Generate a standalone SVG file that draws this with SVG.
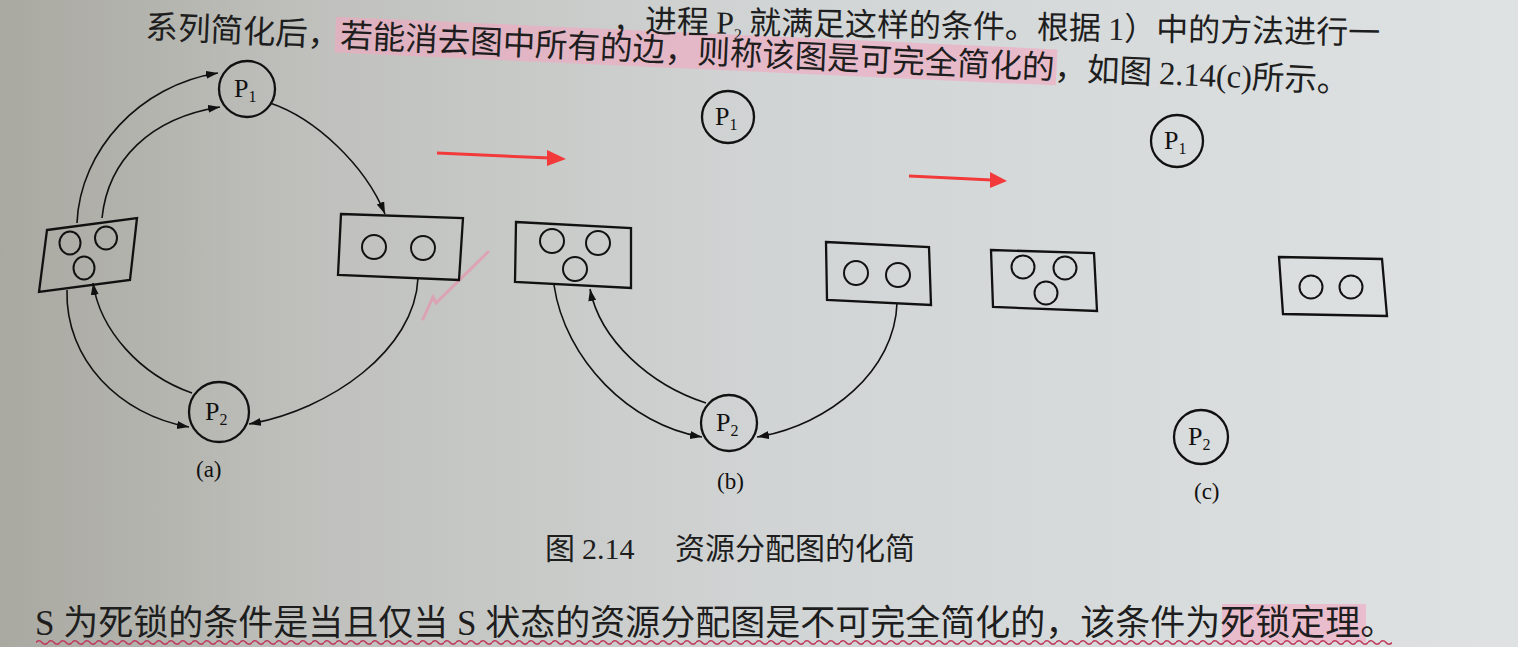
<svg xmlns="http://www.w3.org/2000/svg" width="1518" height="647" viewBox="0 0 1518 647">
<defs>
<linearGradient id="paper" x1="0" y1="0" x2="1" y2="0">
<stop offset="0" stop-color="#a9a8a1"/>
<stop offset="0.2" stop-color="#bfc0bc"/>
<stop offset="0.5" stop-color="#d1d4d4"/>
<stop offset="1" stop-color="#dfe2e3"/>
</linearGradient>
<marker id="ah" markerUnits="userSpaceOnUse" markerWidth="14" markerHeight="10" refX="12" refY="4" orient="auto">
<path d="M0,0 L12,4 L0,8 Z" fill="#111"/>
</marker>
<pattern id="wave" patternUnits="userSpaceOnUse" x="36" y="638" width="12" height="9">
<path d="M0,4.5 Q3,1 6,4.5 T12,4.5" fill="none" stroke="#c03a5c" stroke-width="1.7"/>
</pattern>
<style>
.cjk{font-family:"Noto Sans CJK SC","Liberation Serif",sans-serif;fill:#1e1e1e}
.lat{font-family:"Liberation Serif","Noto Sans CJK SC",serif}
.node{fill:none;stroke:#111;stroke-width:2.3}
.res{fill:none;stroke:#111;stroke-width:2}
.edge{fill:none;stroke:#111;stroke-width:1.6;marker-end:url(#ah)}
.lbl{font-family:"Liberation Serif",serif;font-size:26px;fill:#111}
.sub{font-size:16px}
.cap{font-family:"Liberation Serif",serif;font-size:23px;fill:#111}
.red{fill:#f23a3a}
</style>
</defs>
<rect width="1518" height="647" fill="url(#paper)"/>

<!-- highlights -->
<g id="highlights">
<rect x="335" y="8" width="722" height="36" fill="#f3a6c2" opacity="0.6" transform="rotate(2.6,145,38)"/>
<rect x="1222" y="604" width="144" height="38" fill="#f3a6c2" opacity="0.6"/>
</g>

<!-- text lines -->
<g id="text">
<text class="cjk" font-size="32" x="1380" y="44" text-anchor="end" transform="rotate(0.9,1380,44)">，进程 <tspan class="lat">P<tspan class="sub" dy="6">2</tspan></tspan><tspan dy="-6"> 就满足这样的条件。根据 </tspan><tspan class="lat">1</tspan>）中的方法进行一</text>
<text class="cjk" font-size="32.5" x="145" y="38" transform="rotate(2.6,145,38)">系列简化后，若能消去图中所有的边，则称该图是可完全简化的，如图 <tspan class="lat">2.14(c)</tspan>所示。</text>
<text class="cjk" font-size="30" y="559"><tspan x="545">图</tspan><tspan class="lat" x="582">2.14</tspan><tspan x="675">资源分配图的化简</tspan></text>
<text class="cjk" font-size="35" x="35" y="635"><tspan class="lat">S </tspan>为死锁的条件是当且仅当<tspan class="lat"> S </tspan>状态的资源分配图是不可完全简化的，该条件为死锁定理。</text>
</g>
<rect x="36" y="638" width="1356" height="9" fill="url(#wave)"/>

<!-- red annotations -->
<g id="annotations">
<line x1="437" y1="153" x2="550" y2="158" stroke="#f23a3a" stroke-width="3"/>
<polygon class="red" points="547,150 566,159 547,166"/>
<line x1="909" y1="176" x2="992" y2="180" stroke="#f23a3a" stroke-width="3"/>
<polygon class="red" points="990,172 1007,181 990,188"/>
<path d="M423,319 L433,297 L436,303 L488,252" fill="none" stroke="#e594ab" stroke-width="3" stroke-linecap="round" opacity="0.7"/>
</g>

<!-- diagram (a) -->
<g id="a-P1"><circle class="node" cx="247" cy="89" r="28"/><text class="lbl" x="234" y="97">P<tspan class="sub" dy="5">1</tspan></text></g>
<g id="a-P2"><circle class="node" cx="219" cy="412" r="30"/><text class="lbl" x="205" y="420">P<tspan class="sub" dy="5">2</tspan></text></g>
<g id="a-R1"><polygon class="node" points="47,230 137,218 130,280 39,292"/>
<ellipse class="res" cx="70" cy="243" rx="10.5" ry="11.5"/><ellipse class="res" cx="106" cy="238" rx="11" ry="11.5"/><ellipse class="res" cx="84" cy="268" rx="10.5" ry="11.5"/></g>
<g id="a-R2"><polygon class="node" points="341,214 463,218 459,280 338,275"/>
<circle class="res" cx="374" cy="247" r="12"/><circle class="res" cx="423" cy="248" r="12"/></g>
<text class="cap" x="196" y="477">(a)</text>

<!-- diagram (b) -->
<g id="b-P1"><circle class="node" cx="728" cy="117" r="26"/><text class="lbl" x="715" y="125">P<tspan class="sub" dy="5">1</tspan></text></g>
<g id="b-P2"><circle class="node" cx="729" cy="423" r="28"/><text class="lbl" x="716" y="431">P<tspan class="sub" dy="5">2</tspan></text></g>
<g id="b-R1"><polygon class="node" points="516,222 631,228 631,288 515,282"/>
<circle class="res" cx="552" cy="241" r="12"/><circle class="res" cx="598" cy="243" r="12"/><circle class="res" cx="575" cy="269" r="12"/></g>
<g id="b-R2"><polygon class="node" points="826,242 929,247 931,305 827,300"/>
<circle class="res" cx="856" cy="273" r="12"/><circle class="res" cx="898" cy="275" r="12"/></g>
<text class="cap" x="717" y="489">(b)</text>

<!-- diagram (c) -->
<g id="c-P1"><circle class="node" cx="1177" cy="141" r="26"/><text class="lbl" x="1164" y="149">P<tspan class="sub" dy="5">1</tspan></text></g>
<g id="c-P2"><circle class="node" cx="1201" cy="437" r="27"/><text class="lbl" x="1188" y="445">P<tspan class="sub" dy="5">2</tspan></text></g>
<g id="c-R1"><polygon class="node" points="991,250 1094,253 1097,311 993,307"/>
<circle class="res" cx="1023" cy="267" r="11.5"/><circle class="res" cx="1065" cy="268" r="11.5"/><circle class="res" cx="1046" cy="293" r="11.5"/></g>
<g id="c-R2"><polygon class="node" points="1279,257 1382,259 1387,316 1283,314"/>
<circle class="res" cx="1311" cy="287" r="11.5"/><circle class="res" cx="1351" cy="287" r="11.5"/></g>
<text class="cap" x="1194" y="499">(c)</text>

<!-- connectors -->
<g id="connectors">
<path class="edge" d="M77,223 C80,150 140,85 218,73"/>
<path class="edge" d="M102,218 C108,160 150,118 220,107"/>
<path class="edge" d="M270,103 C315,118 365,165 385,214"/>
<path class="edge" d="M418,278 C415,350 330,410 249,424"/>
<path class="edge" d="M67,290 C65,360 120,415 189,427"/>
<path class="edge" d="M192,393 C140,375 100,330 93,283"/>
<path class="edge" d="M554,285 C565,360 630,425 702,437"/>
<path class="edge" d="M706,403 C650,385 600,340 590,289"/>
<path class="edge" d="M897,303 C895,370 830,425 757,437"/>
</g>
</svg>
